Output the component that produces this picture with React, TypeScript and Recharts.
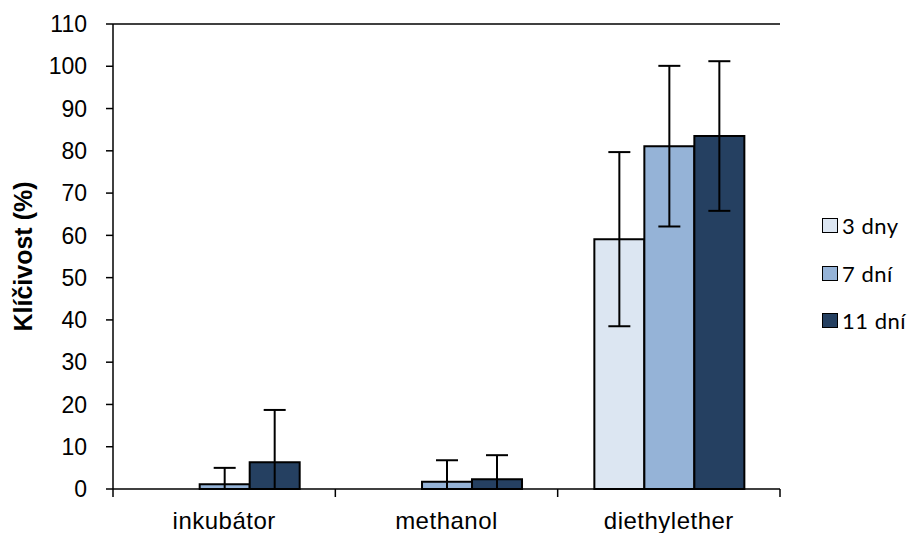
import React from 'react'
import { BarChart, Bar, XAxis, YAxis, ErrorBar, ReferenceLine } from 'recharts'

document.body.style.margin = '0'

const categories = ['inkubátor', 'methanol', 'diethylether']
const seriesNames = ['3 dny', '7 dní', '11 dní']
const colors = ['#dce6f2', '#95b3d7', '#254061']

// mean germination (%)
const dny3 = [0, 0, 59.1]
const dni7 = [1.1, 1.7, 81.1]
const dni11 = [6.3, 2.3, 83.5]

// error bars [down, up]; the lower part is cut at zero like in the source chart
const err3: ([number, number] | undefined)[] = [undefined, undefined, [20.6, 20.6]]
const err7: ([number, number] | undefined)[] = [[1.1, 3.9], [1.7, 5.1], [19, 19]]
const err11: ([number, number] | undefined)[] = [[6.3, 12.4], [2.3, 5.7], [17.7, 17.7]]

const yTicks = [0, 10, 20, 30, 40, 50, 60, 70, 80, 90, 100, 110]

const data = categories.map((name, i) => ({
  name,
  s0: dny3[i],
  s1: dni7[i],
  s2: dni11[i],
  e0: err3[i],
  e1: err7[i],
  e2: err11[i],
}))

const W = 916
const H = 533
const margin = { top: 24, right: 136, bottom: 0, left: 0 }
const yAxisWidth = 113
const xAxisHeight = 44
const plotBottom = H - margin.bottom - xAxisHeight
const band = (W - margin.left - margin.right - yAxisWidth) / categories.length
const font = "'Liberation Sans', Arial, sans-serif"

const CategoryTick = (props: any) => {
  const { x, payload, index } = props
  return (
    <g>
      <line x1={x - band / 2} x2={x - band / 2} y1={plotBottom} y2={plotBottom + 8} stroke="#000" strokeWidth={1.5} />
      {index === categories.length - 1 && (
        <line x1={x + band / 2} x2={x + band / 2} y1={plotBottom} y2={plotBottom + 8} stroke="#000" strokeWidth={1.5} />
      )}
      <text x={x} y={plotBottom + 40} textAnchor="middle" fontSize={24} letterSpacing={0.5} fill="#000" fontFamily={font}>
        {payload.value}
      </text>
    </g>
  )
}

const YLabel = (props: any) => {
  const { viewBox } = props
  const cx = 23
  const cy = viewBox.y + viewBox.height / 2
  return (
    <text
      x={cx}
      y={cy}
      transform={`rotate(-90 ${cx} ${cy})`}
      textAnchor="middle"
      dominantBaseline="central"
      fontSize={25}
      fontWeight="bold"
      fill="#000"
      fontFamily={font}
    >
      Klíčivost (%)
    </text>
  )
}

export default function App() {
  return (
    <div style={{ position: 'relative', width: W, height: H, background: '#fff' }}>
      <BarChart width={W} height={H} data={data} margin={margin} barGap={0} barCategoryGap="16.5%">
        <XAxis
          dataKey="name"
          tickLine={false}
          axisLine={{ stroke: '#000', strokeWidth: 1.5 }}
          tick={<CategoryTick />}
          height={xAxisHeight}
          interval={0}
        />
        <YAxis
          domain={[0, 110]}
          ticks={yTicks}
          interval={0}
          width={yAxisWidth}
          tickSize={7}
          tickMargin={19}
          axisLine={{ stroke: '#000', strokeWidth: 1.5 }}
          tickLine={{ stroke: '#000', strokeWidth: 1.5 }}
          tick={{ fill: '#000', fontSize: 23, fontFamily: font }}
          label={<YLabel />}
        />
        <YAxis
          yAxisId="right"
          orientation="right"
          domain={[0, 110]}
          width={0}
          tick={false}
          tickLine={false}
          axisLine={{ stroke: '#000', strokeWidth: 1.5 }}
        />
        <ReferenceLine y={110} stroke="#000" strokeWidth={1.5} />
        {seriesNames.map((s, i) => (
          <Bar
            key={s}
            dataKey={`s${i}`}
            name={s}
            fill={colors[i]}
            stroke="#000"
            strokeWidth={2}
            isAnimationActive={false}
          >
            <ErrorBar dataKey={`e${i}`} width={11} stroke="#000" strokeWidth={2} direction="y" />
          </Bar>
        ))}
      </BarChart>
      <div style={{ position: 'absolute', left: 822, top: 202, fontFamily: 'Lato, sans-serif', fontSize: 22, letterSpacing: 0.5, color: '#000' }}>
        {seriesNames.map((s, i) => (
          <div key={s} style={{ display: 'flex', alignItems: 'center', height: 47.5 }}>
            <span
              style={{
                display: 'inline-block',
                width: 14,
                height: 13,
                background: colors[i],
                border: '1.5px solid #000',
                marginRight: 4,
              }}
            />
            <span>{s}</span>
          </div>
        ))}
      </div>
    </div>
  )
}
